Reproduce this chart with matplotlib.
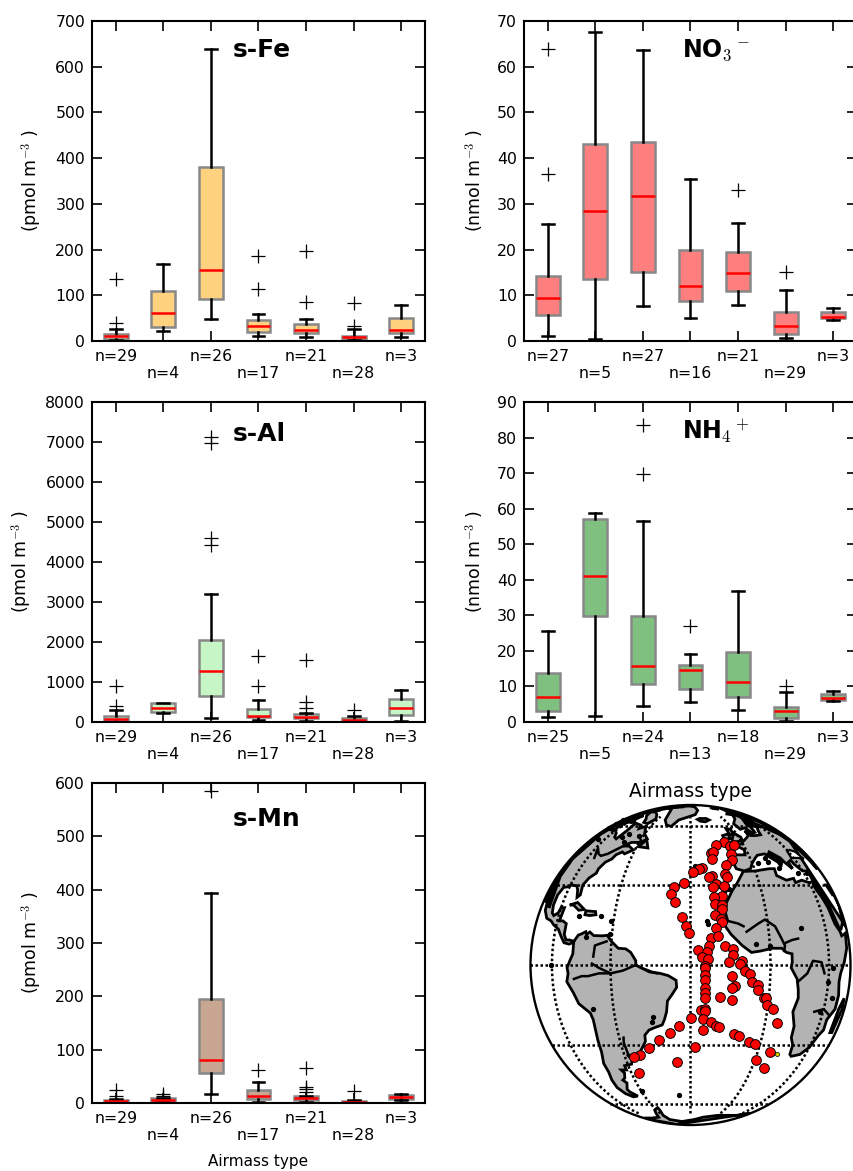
import numpy as np
import matplotlib
matplotlib.use('Agg')
import matplotlib.pyplot as plt
from matplotlib.patches import Circle

plt.rcParams['mathtext.fontset'] = 'cm'
plt.rcParams['font.size'] = 11.3

W, H = 854, 1171

# whislo, q1, median, q3, whishi for each airmass type
fe_box = [[3, 5, 10, 15, 26], [21, 31, 62, 110, 168], [48, 92, 155, 380, 638], [12, 20, 33, 46, 60],
          [9, 17, 23, 37, 49], [2, 4, 8, 12, 26], [9, 17, 25, 51, 78]]
fe_fliers = [[40, 136], [], [], [113, 187], [86, 197], [33, 83], []]
fe_n = [29, 4, 26, 17, 21, 28, 3]

al_box = [[10, 30, 80, 150, 300], [220, 250, 360, 470, 480], [90, 660, 1270, 2040, 3200], [40, 120, 160, 330, 540],
          [30, 90, 130, 190, 220], [10, 30, 60, 100, 150], [30, 180, 340, 570, 800]]
al_fliers = [[400, 890], [], [4420, 4600, 6980, 7120], [890, 1640], [350, 500, 1540], [300], []]
al_n = [29, 4, 26, 17, 21, 28, 3]

mn_box = [[1, 2, 3, 5, 8], [1, 3, 5, 9, 10], [16, 56, 81, 195, 393], [2, 8, 13, 25, 40],
          [1, 5, 9, 13, 14], [0.5, 1, 2, 3, 6], [6, 8, 12, 15, 17]]
mn_fliers = [[13, 25], [13, 17], [585], [62], [20, 26, 30, 66], [23], []]
mn_n = [29, 4, 26, 17, 21, 28, 3]

no3_box = [[1.2, 5.7, 9.5, 14.2, 25.7], [0.4, 13.6, 28.4, 43, 67.6], [7.6, 15.2, 31.8, 43.5, 63.6], [5.1, 8.7, 12, 19.8, 35.4],
           [7.8, 11, 14.8, 19.4, 25.9], [0.7, 1.6, 3.2, 6.4, 11.2], [4.7, 5, 5.3, 6.3, 7.2]]
no3_fliers = [[36.5, 63.8], [], [], [], [33], [15.2], []]
no3_n = [27, 5, 27, 16, 21, 29, 3]

nh4_box = [[1.3, 3.2, 6.9, 13.8, 25.5], [1.7, 29.8, 41, 57.2, 58.8], [4.4, 10.8, 15.8, 29.9, 56.6], [5.7, 9.4, 14.7, 16, 19.2],
           [3.5, 7, 11.3, 19.8, 36.8], [0.4, 1.1, 3, 4.3, 8.5], [5.9, 6.3, 6.7, 7.8, 8.7]]
nh4_fliers = [[], [], [69.8, 83.4], [27], [], [10], []]
nh4_n = [25, 5, 24, 13, 18, 29, 3]

# sample positions
station_lon = [-10.9, -16.1, -8, -5.8, -19.6, -18.5, -9.3, -19.8, -9.6, -13.4, -24.7, -26, -29.1, -15, -14.2, -20.9, -22,
               -32.8, -36.7, -19.3, -16, -20.8, -37.9, -36.1, -17.6, -20.7, -20.3, -17.8, -17.7, -20.7, -33.1, -18.7, -18.3,
               -31.7, -20.5, -30.4, -22.5, -19.8, -23.2, -17.3, -27.4, -14.7, -24, -26, -14.4, -23.8, -11.4, -16, -11.8,
               -24.9, -24.9, -9.9, -8, -24.9, -15.1, -24.8, -7.1, -4.8, -13.8, -14.8, -4.8, -24.8, -24.8, -24.7, -19, -14.4,
               -2.1, -1, -0.3, 2.6, -25.9, -24.6, -24.6, -29.9, -25.1, -22.2, 5.2, -34.3, -19.9, -18.7, -24.9, -38.3, -12.5,
               -10.3, -43, -5.4, -2.6, -47.8, -28.2, 6.1, -52.2, -55.5, 0.3, -36, 7.2, -56]
station_lat = [50.4, 48.8, 48.2, 48.6, 44.3, 44.8, 43.9, 41.3, 41.2, 38.5, 37.5, 37, 35.7, 34.8, 33.4, 33.8, 33.4,
               30.8, 29.2, 30.3, 29.6, 29.3, 26.5, 23, 25.4, 25, 22.3, 22, 20.4, 18.3, 17.5, 16.8, 15.7,
               14.2, 13.5, 11.7, 9.6, 10.3, 6.8, 6.9, 5.5, 5.7, 4.8, 2.7, 3.5, 2, 1.4, 1.1, 0.2,
               -0.2, -1.2, -2.3, -3.1, -3.6, -3.8, -5.4, -6.1, -7.2, -7.4, -8.4, -9, -8.4, -10.2, -12, -11.4, -12.8,
               -11.8, -11.8, -14.4, -15.8, -16.5, -16.1, -16.7, -19.3, -19.9, -21, -21.1, -22.3, -22.3, -22.8, -24, -25, -25.7,
               -26.4, -28.1, -28.9, -29.6, -31.4, -30.8, -33, -34.2, -35.1, -36.3, -37.2, -40.1, -42.6]
other_lon = [10.4]
other_lat = [-33.9]

south_america = [(-77.5, 8.5), (-75.5, 10.8), (-74, 11.2), (-72, 12), (-71.5, 11), (-70, 11.9), (-68, 10.6), (-64, 10.5),
                 (-62, 10.7), (-60, 8.5), (-57, 6), (-54, 5.8), (-52, 4.5), (-50, 1.5), (-50, 0), (-48, -1), (-44, -2.5),
                 (-41, -3), (-38, -3.8), (-35.2, -5.5), (-35, -8), (-37, -11), (-38.5, -13), (-39, -17), (-40, -20),
                 (-41, -22), (-44, -23), (-46.5, -24), (-48.5, -26), (-48.7, -28.5), (-50.5, -31), (-53, -34), (-55, -35),
                 (-57, -34.5), (-58.5, -34), (-57, -36.5), (-58, -38.3), (-62, -39), (-62, -41), (-65, -41), (-64, -42.5),
                 (-65.5, -45), (-67.5, -46), (-66, -47.5), (-69, -51), (-68.5, -52.5), (-65, -55), (-69, -55.5),
                 (-73, -53.5), (-75.5, -50), (-75, -46), (-73.5, -42), (-73.5, -38), (-71.5, -33), (-71, -28), (-70.3, -20),
                 (-71, -17.5), (-76, -14), (-78, -10), (-81, -6), (-80, -3), (-80.5, -1), (-79, 1.5), (-77.5, 4), (-77.5, 7)]
north_america = [(-77.5, 8.5), (-80, 9), (-82, 9), (-83.5, 11), (-83.5, 15), (-86, 16), (-88.5, 16), (-88, 18), (-87.5, 21),
                 (-90, 21), (-91, 19), (-94, 18), (-96, 19), (-97.5, 22), (-97.5, 26), (-95, 29), (-91, 29.3), (-89, 30),
                 (-85, 29.7), (-83, 28), (-81.5, 25), (-80, 26), (-81, 30), (-79, 33), (-76, 35), (-76, 37), (-74, 40),
                 (-71, 41.5), (-70, 43.5), (-67, 45), (-65, 44), (-61, 46), (-65, 48), (-69, 48), (-65, 50), (-59, 50),
                 (-56, 52), (-60, 55), (-64, 60), (-68, 58.5), (-70, 61), (-78, 62.5), (-77, 57), (-79, 52), (-82, 53),
                 (-85, 55.5), (-93, 58), (-94, 61), (-88, 64), (-85, 69), (-95, 68), (-110, 68), (-125, 70), (-140, 70),
                 (-156, 71), (-166, 68), (-162, 64), (-165, 61), (-158, 58), (-150, 60), (-140, 60), (-130, 55), (-125, 50),
                 (-124, 46), (-124, 40), (-120, 34.5), (-117, 32.5), (-114, 28), (-110, 23), (-113, 31), (-108, 25),
                 (-105, 20), (-100, 17), (-95, 16), (-92, 14.5), (-88, 13), (-85.5, 10.5), (-83, 8), (-80, 7.5), (-78, 8)]
greenland = [(-44, 60), (-40, 65), (-25, 70), (-20, 75), (-20, 81), (-32, 83.5), (-60, 82), (-73, 78.5), (-60, 76), (-54, 70),
             (-52, 65), (-48, 61)]
africa = [(-6, 35.8), (-10, 31), (-13, 27.5), (-17, 21), (-16, 16), (-17.5, 14.7), (-15, 11), (-13, 9), (-11, 7), (-7.5, 4.5),
          (-4, 5), (1, 6), (5, 6), (7, 4.5), (9.5, 4), (9.5, 1), (9, -1), (12, -5), (13, -9), (13.5, -12), (12, -17),
          (14.5, -22.5), (15, -27), (17.5, -30), (18.5, -34), (20, -34.8), (25.5, -34), (30, -31), (33, -26), (35.5, -24),
          (35, -20), (40, -16), (40.5, -11), (39, -6), (40, -3), (44, 1), (49, 6), (51, 11.5), (44, 10.5), (43, 12), (39, 15),
          (37, 21), (35, 25), (33, 28), (32.5, 30), (34, 31.5), (30, 31), (25, 32), (20, 31), (20, 32.8), (15, 32), (10.5, 34),
          (11, 37), (8, 37), (0, 36)]
eurasia = [(-9, 37), (-9.5, 39), (-9, 43.5), (-2, 43.5), (-1, 46), (-4.5, 48.3), (-1.5, 49), (2, 51), (4, 52), (8, 54), (8.5, 57),
           (11, 56), (10, 54), (14, 54), (19, 54.5), (21, 57), (24, 59), (29, 60), (23, 60), (21, 63), (25, 65.5), (22, 65.5),
           (17.5, 62), (18, 59.5), (16, 56), (13, 55.5), (11, 59), (6, 58), (5, 62), (13, 66), (20, 70), (28, 71), (40, 67),
           (35, 66), (40, 65), (44, 68), (60, 69), (68, 71), (80, 73), (100, 77), (110, 40), (80, 13), (72, 21), (67, 25),
           (62, 25), (56, 27), (50, 30), (48, 30), (51, 26), (56, 26), (59, 22), (52, 16), (45, 13), (43, 13), (39, 21),
           (35, 28), (34, 31.5), (35, 36), (30, 36), (26.5, 39), (26, 41), (23, 40), (23, 37), (20, 40), (19, 42), (14, 45),
           (12.5, 44), (16, 41.5), (18, 40), (16, 38), (15.5, 40), (10, 44), (5, 43.3), (3, 42), (0, 39.5), (-2, 37), (-5.5, 36)]
antarctica = [(-57, -63), (-62, -65), (-65, -68), (-70, -72), (-85, -73), (-100, -73), (-130, -74), (-180, -80), (60, -68),
              (30, -70), (0, -70), (-15, -72), (-25, -75), (-45, -78), (-60, -75), (-60, -70), (-57, -65)]
cuba = [(-84.5, 22), (-80, 23), (-75, 20.3), (-78, 20), (-82, 22)]
hispaniola = [(-74, 19.8), (-69, 19.5), (-68.5, 18.3), (-71.5, 18), (-74, 18.3)]
newfoundland = [(-59, 47.7), (-56, 51.5), (-53, 47)]
baffin = [(-65, 62), (-62, 66), (-68, 70), (-78, 73), (-88, 73), (-80, 69), (-73, 66), (-70, 63)]
victoria = [(-105, 69), (-115, 69), (-117, 72), (-105, 73)]
ellesmere = [(-62, 82), (-75, 83), (-90, 81), (-85, 77), (-75, 78)]
devon = [(-92, 75), (-80, 75), (-80, 76), (-92, 76)]
melville = [(-115, 75), (-105, 75), (-105, 76), (-115, 76)]
banks = [(-125, 72), (-118, 72), (-118, 74), (-125, 74)]
southampton = [(-87, 63), (-81, 63), (-85, 65)]
iceland = [(-24, 65.5), (-22, 64), (-18, 63.5), (-14, 65), (-16, 66.3), (-22, 66.3)]
britain = [(-5.5, 50), (1, 51), (1.5, 53), (-2, 56), (-2, 58), (-5, 58.5), (-5, 55), (-3, 54), (-5, 52)]
ireland = [(-10, 52), (-6, 52), (-6, 55), (-10, 54)]
svalbard = [(12, 78), (22, 77), (27, 80), (15, 80)]
novaya = [(52, 71), (57, 71), (68, 77), (60, 76)]
madagascar = [(49, -12), (50.5, -16), (47, -25), (44, -25), (43.5, -21), (44.5, -16)]
land = [south_america, north_america, greenland, africa, eurasia, antarctica, cuba, hispaniola, newfoundland, baffin,
        victoria, ellesmere, devon, melville, banks, southampton, iceland, britain, ireland, svalbard, novaya, madagascar]
black_sea = [(28, 42), (35, 42), (41, 41.5), (38, 45), (33, 46), (29, 45)]
caspian = [(47, 45), (53, 46), (53, 37), (50, 37), (49, 41)]
seas = [black_sea, caspian]

amazon = [(-50, 0), (-55, -2), (-60, -3), (-65, -3), (-70, -4), (-73, -4), (-77, -5)]
tocantins = [(-50, 0), (-45, -2.5), (-42, -3)]
negro = [(-60, -3), (-65, -1), (-68, 0.5)]
orinoco = [(-62, 8.5), (-67, 7), (-67.5, 3)]
parana = [(-58, -34), (-58.5, -29), (-58, -27)]
niger = [(-9, 12), (-4, 15), (-1, 16.5), (3, 14), (5, 10), (6.5, 7), (6, 5)]
benue = [(7, 8), (10, 9), (13, 9.5)]
senegal = [(-16, 16), (-12, 15), (-10, 14)]
congo = [(12.5, -6), (17, -3), (20, 1.5), (25, 1), (27, -3)]
zambezi = [(35, -18), (30, -16), (24, -17)]
st_lawrence = [(-69, 48), (-76, 44), (-80, 43), (-83, 44), (-88, 47), (-84, 42)]
rivers = [amazon, tocantins, negro, orinoco, parana, niger, benue, senegal, congo, zambezi, st_lawrence]

# dense arctic coasts that pile up near the rim
west_rim = [(-103, 22), (-112, 34), (-122, 42), (-130, 55), (-140, 61), (-140, 72), (-120, 76), (-105, 79), (-90, 83), (-70, 85)]
east_rim = [(20, 72), (35, 70), (45, 68), (60, 65), (70, 60), (75, 50), (75, 40)]
rims = [west_rim, east_rim]

# lakes and small islands
dots_lon = [-69.5, -44.5, -44.8, -71.5, -59, -37, -91, -61, -24, -23.5, -16, -14, -28, -26, 15, -5.5, 0, 33, 29.5, 34.5, 28,
            -66, -77, -61, -70, -75, -63, -100, -97, -110, -112, -118, -72, 9, 9, 14, 25, 33, 3]
dots_lat = [-16, -19, -21, 10, -51.7, -54.3, 0, 16, 16, 15, 28, 28.5, 38, 38, 13.2, 7.5, 7, -1, -6, -12, -17, 18, 18, 11, 50, 53, 54,
            52, 58, 59, 62, 65, 55, 40, 42, 37.5, 35, 35, 39.5]


def to_map(points):
    # orthographic view centred on 30W at the equator, far side pushed onto the rim
    lon = np.radians(np.array([p[0] for p in points]) + 30)
    lat = np.radians(np.array([p[1] for p in points]))
    x = np.cos(lat) * np.sin(lon)
    y = np.sin(lat)
    far = np.cos(lat) * np.cos(lon) < 0
    r = np.hypot(x[far], y[far])
    x[far] = x[far] / r
    y[far] = y[far] / r
    return x, y


def boxes(ax, box, fliers, n, color, ymax, ylabel):
    stats = [{'whislo': b[0], 'q1': b[1], 'med': b[2], 'q3': b[3], 'whishi': b[4], 'fliers': f} for b, f in zip(box, fliers)]
    ax.bxp(stats, widths=0.5, patch_artist=True,
           boxprops=dict(facecolor=color, edgecolor='#888888', linewidth=1.8),
           medianprops=dict(color='red', linewidth=1.8),
           whiskerprops=dict(color='black', linewidth=1.8, linestyle='-'),
           capprops=dict(color='black', linewidth=1.8),
           flierprops=dict(marker='+', markersize=10, markeredgewidth=0.9, markeredgecolor='black'))
    ax.set_xlim(0.5, 7.5)
    ax.set_ylim(0, ymax)
    labels = []
    for i, v in enumerate(n):
        labels.append('n=%d' % v if i % 2 == 0 else '\nn=%d' % v)
    ax.set_xticks(range(1, 8))
    ax.set_xticklabels(labels)
    ax.tick_params(direction='in', length=7, width=1.2, top=True, right=True, labelsize=11.3)
    ax.tick_params(axis='x', pad=5.5)
    ax.tick_params(axis='y', pad=5)
    ax.set_ylabel(ylabel, fontsize=12.5, labelpad=8)
    for s in ax.spines.values():
        s.set_linewidth(1.5)


def panel(left, top, width=333, height=320):
    return fig.add_axes([left / W, 1 - (top + height) / H, width / W, height / H])


fig = plt.figure(figsize=(W / 100, H / 100), dpi=100)

ax1 = panel(92, 21)
boxes(ax1, fe_box, fe_fliers, fe_n, '#FFD27F', 700, '(pmol m$^{-3}$ )')
ax1.text(0.423, 0.887, 's-Fe', transform=ax1.transAxes, fontsize=18, fontweight='bold')

ax2 = panel(524, 21)
boxes(ax2, no3_box, no3_fliers, no3_n, '#FF7F7F', 70, '(nmol m$^{-3}$ )')
ax2.text(0.4735, 0.887, 'NO$_3$$^-$', transform=ax2.transAxes, fontsize=17, fontweight='bold')

ax3 = panel(92, 402)
boxes(ax3, al_box, al_fliers, al_n, '#C6F6C6', 8000, '(pmol m$^{-3}$ )')
ax3.text(0.423, 0.877, 's-Al', transform=ax3.transAxes, fontsize=18, fontweight='bold')

ax4 = panel(524, 402)
boxes(ax4, nh4_box, nh4_fliers, nh4_n, '#7FBF7F', 90, '(nmol m$^{-3}$ )')
ax4.text(0.4735, 0.884, 'NH$_4$$^+$', transform=ax4.transAxes, fontsize=17, fontweight='bold')

ax5 = panel(92, 783)
boxes(ax5, mn_box, mn_fliers, mn_n, '#C9A692', 600, '(pmol m$^{-3}$ )')
ax5.text(0.423, 0.866, 's-Mn', transform=ax5.transAxes, fontsize=18, fontweight='bold')
ax5.set_xlabel('Airmass type', fontsize=11, labelpad=8)

# map, 160 px radius centred at x=690.5 y=965
m = fig.add_axes([(690.5 - 165) / W, 1 - (965 + 165) / H, 330 / W, 330 / H])
m.set_xlim(-165 / 160, 165 / 160)
m.set_ylim(-165 / 160, 165 / 160)
m.axis('off')
rim = Circle((0, 0), 1, facecolor='white', edgecolor='none', transform=m.transData)
m.add_patch(rim)

for part in land:
    x, y = to_map(part)
    p = m.fill(x, y, facecolor='0.7', edgecolor='black', linewidth=2, zorder=2)[0]
    p.set_clip_path(rim)
for part in seas:
    x, y = to_map(part)
    p = m.fill(x, y, facecolor='white', edgecolor='black', linewidth=1.6, zorder=2.1)[0]
    p.set_clip_path(rim)
for part in rivers:
    x, y = to_map(part)
    m.plot(x, y, color='black', linewidth=1.8, zorder=2.2)
for part in rims:
    x, y = to_map(part)
    m.plot(x, y, color='black', linewidth=4, zorder=2.2)[0].set_clip_path(rim)
x, y = to_map(list(zip(dots_lon, dots_lat)))
m.plot(x, y, 'o', color='black', markersize=2.8, zorder=2.2, linestyle='none')

# graticule
for lat in [-60, -30, 0, 30, 60]:
    pts = [(v, lat) for v in np.arange(-120, 61, 2)]
    x, y = to_map(pts)
    m.plot(x, y, color='black', linewidth=1.8, linestyle=(0, (1, 1)), zorder=3)
for lon in [-90, -60, -30, 0, 30]:
    pts = [(lon, v) for v in np.arange(-68, 69, 2)]
    x, y = to_map(pts)
    m.plot(x, y, color='black', linewidth=1.8, linestyle=(0, (1, 1)), zorder=3)

x, y = to_map(list(zip(station_lon, station_lat)))
m.plot(x, y, 'o', color='red', markeredgecolor='black', markeredgewidth=0.7, markersize=7, zorder=4, linestyle='none')
x, y = to_map(list(zip(other_lon, other_lat)))
m.plot(x, y, 'o', color='#D8C800', markeredgecolor='black', markeredgewidth=0.5, markersize=3, zorder=4, linestyle='none')
m.add_patch(Circle((0, 0), 1, facecolor='none', edgecolor='black', linewidth=1.7, zorder=5))
m.text(0, 1.025, 'Airmass type', ha='center', va='bottom', fontsize=13.5)

fig.savefig('out.png', dpi=100)
